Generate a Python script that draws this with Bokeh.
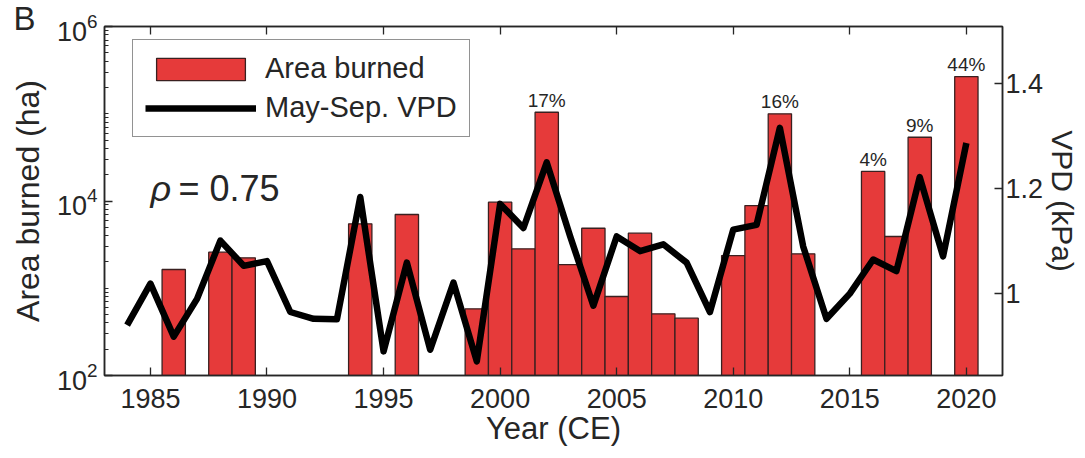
from bokeh.plotting import figure
from bokeh.models import (Range1d, LinearAxis, LinearScale, FixedTicker, CustomJSTickFormatter,
                          Label, ColumnDataSource, LogTickFormatter, Title)
from bokeh.core.properties import value
from bokeh.embed import file_html
from bokeh.resources import INLINE

# ---- data ----
bar_years = [1986, 1988, 1989, 1994, 1996, 1999, 2000, 2001, 2002, 2003, 2004, 2005,
             2006, 2007, 2008, 2010, 2011, 2012, 2013, 2016, 2017, 2018, 2020]
bar_area = [1640, 2590, 2230, 5480, 7000, 581, 9690, 2830, 104000, 1870, 4870, 804,
            4280, 509, 454, 2370, 8870, 99700, 2480, 21800, 3920, 53800, 267000]

vpd_years = list(range(1984, 2021))
vpd = [0.940, 1.019, 0.918, 0.990, 1.101, 1.053, 1.062, 0.965, 0.952, 0.951,
       1.184, 0.890, 1.059, 0.893, 1.021, 0.871, 1.171, 1.125, 1.250, 1.110,
       0.977, 1.109, 1.081, 1.094, 1.059, 0.965, 1.122, 1.131, 1.316, 1.090,
       0.952, 1.000, 1.065, 1.043, 1.222, 1.071, 1.287]

pct_years = [2002, 2012, 2016, 2018, 2020]
pct_labels = ["17%", "16%", "4%", "9%", "44%"]

x_ticks = [1985, 1990, 1995, 2000, 2005, 2010, 2015, 2020]
y_ticks = [1e2, 1e4, 1e6]
vpd_ticks = [1.0, 1.2, 1.4]

FONT = "Liberation Sans"
TXT = "#262626"
RED = "#e63a3a"

p = figure(width=1085, height=458,
           x_range=Range1d(1983.03, 2021.55), y_range=Range1d(100, 1e6),
           y_axis_type="log", output_backend="svg", toolbar_location=None,
           min_border_left=104, min_border_right=83, min_border_top=26,
           min_border_bottom=83)
p.extra_y_ranges = {"vpd": Range1d(0.844, 1.509)}
p.extra_y_scales = {"vpd": LinearScale()}
p.grid.visible = False
p.outline_line_color = TXT
p.outline_line_width = 1.5
p.background_fill_color = "white"
p.border_fill_color = "white"

bar_src = ColumnDataSource(dict(x=bar_years, top=bar_area))
p.vbar(x="x", top="top", bottom=1, width=1.0, source=bar_src,
       fill_color=RED, line_color="#3a2020", line_width=1.3,
       legend_label="Area burned")

p.line(vpd_years, vpd, y_range_name="vpd", line_color="black", line_width=6.5,
       line_join="round", legend_label="May-Sep. VPD")

area_lookup = dict(zip(bar_years, bar_area))
pct_src = ColumnDataSource(dict(x=pct_years, y=[area_lookup[y] for y in pct_years],
                                t=pct_labels))
p.text(x="x", y="y", text="t", source=pct_src, text_align="center",
       text_baseline="alphabetic", y_offset=-12, text_font=value(FONT),
       text_font_size="19px", text_color=TXT)

# axes
xa = p.xaxis[0]
xa.ticker = FixedTicker(ticks=x_ticks)
xa.axis_label = "Year (CE)"
ya = p.yaxis[0]
minor = [k * 10 ** e for e in range(2, 6) for k in range(1, 10) if not (k == 1 and e % 2 == 0)]
ya.ticker = FixedTicker(ticks=y_ticks, minor_ticks=minor)
ya.formatter = LogTickFormatter()
ya.axis_label = "Area burned (ha)"

ra = LinearAxis(y_range_name="vpd", ticker=FixedTicker(ticks=vpd_ticks),
                formatter=CustomJSTickFormatter(code="return String(Math.round(tick*10)/10);"),
                axis_label="VPD (kPa)")
p.add_layout(ra, "right")

ta = LinearAxis(ticker=FixedTicker(ticks=x_ticks),
                formatter=CustomJSTickFormatter(code="return '';"),
                major_label_text_font_size="1px", major_label_standoff=0, axis_label=None)
p.add_layout(ta, "above")

for ax in [xa, ya, ra, ta]:
    ax.axis_line_color = TXT
    ax.axis_line_width = 1.5
    ax.major_tick_line_color = TXT
    ax.minor_tick_line_color = TXT
    ax.major_tick_line_width = 1.3
    ax.major_tick_in = 8
    ax.major_tick_out = 0
    ax.minor_tick_in = 4
    ax.minor_tick_out = 0
    ax.major_label_text_font = FONT
    ax.major_label_text_color = TXT
    ax.axis_label_text_font = FONT
    ax.axis_label_text_color = TXT
    ax.axis_label_text_font_style = "normal"
for ax in [xa, ya, ra]:
    ax.major_label_text_font_size = "27px"
xa.axis_label_text_font_size = "31px"
ya.axis_label_text_font_size = "32px"
ra.axis_label_text_font_size = "30px"
xa.major_label_standoff = 13
xa.axis_label_standoff = 0
ya.major_label_standoff = 7
ya.axis_label_standoff = 8
ra.major_label_standoff = 3
ra.axis_label_standoff = 0

# legend
lg = p.legend[0]
lg.location = (28, 238)
lg.label_text_font = FONT
lg.label_text_font_size = "29px"
lg.label_text_color = TXT
lg.glyph_width = 111
lg.glyph_height = 28
lg.label_standoff = 9
lg.padding = 12
lg.spacing = 6
lg.margin = 0
lg.border_line_color = TXT
lg.border_line_width = 1.3
lg.background_fill_alpha = 1.0

# rho annotation
p.add_layout(Label(x=1985.0, y=13900, text="ρ", text_font=FONT, text_font_style="italic",
                   text_font_size="36px", text_color=TXT, text_baseline="alphabetic"))
p.add_layout(Label(x=1986.2, y=13900, text="= 0.75", text_font=FONT,
                   text_font_size="36px", text_color=TXT, text_baseline="alphabetic"))

# panel letter, as a title in the top margin
p.add_layout(Title(text="B", align="left", offset=-91, standoff=-20,
                   text_font=FONT, text_font_size="33px", text_font_style="normal",
                   text_color=TXT), "above")

open("out.html", "w").write(file_html(p, INLINE))
